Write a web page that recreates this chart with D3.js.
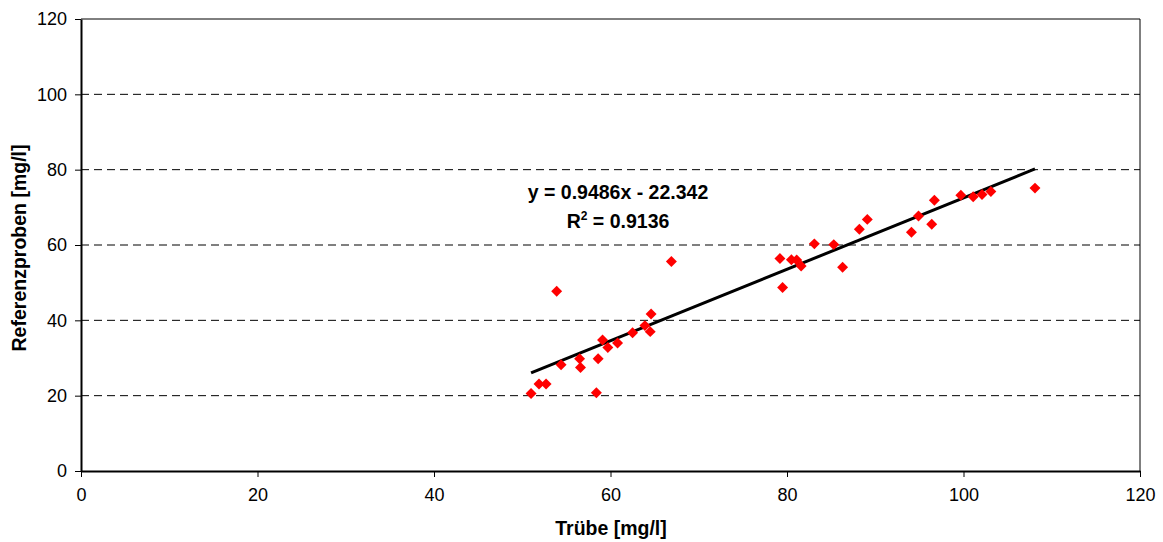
<!DOCTYPE html>
<html>
<head>
<meta charset="utf-8">
<script src="https://cdn.jsdelivr.net/npm/d3@7"></script>
<style>
  body { margin: 0; background: #fff; }
  svg text { font-family: "Liberation Sans", Arial, sans-serif; }
</style>
</head>
<body>
<svg id="chart" width="1163" height="542"></svg>
<script>
// Data
var truebe = [51.0, 51.9, 52.7, 53.9, 54.4, 56.5, 56.6, 58.4, 58.6, 59.1, 59.7, 60.8, 62.5, 63.9, 64.5, 64.6, 66.9,
  79.2, 79.5, 80.5, 81.1, 81.6, 83.1, 85.3, 86.3, 88.2, 89.1, 94.1, 94.9, 96.4, 96.7, 99.7, 101.1, 102.1, 103.1, 108.1];
var referenz = [20.6, 23.1, 23.1, 47.7, 28.2, 29.8, 27.5, 20.8, 29.8, 34.8, 32.8, 34.0, 36.7, 38.6, 37.0, 41.7, 55.6,
  56.4, 48.7, 56.1, 56.0, 54.4, 60.3, 60.1, 54.1, 64.2, 66.8, 63.4, 67.7, 65.5, 71.9, 73.2, 72.8, 73.4, 74.2, 75.1];
var xTicks = [0, 20, 40, 60, 80, 100, 120];
var yTicks = [0, 20, 40, 60, 80, 100, 120];
var slope = 0.9486, intercept = -22.342;
var eqText = "y = 0.9486x - 22.342";
var r2Text = " = 0.9136";

const MARGIN = { LEFT: 81, RIGHT: 23, TOP: 19, BOTTOM: 71 };
var width = 1163, height = 542;

let svg = d3.select("#chart");

var xScale = d3.scaleLinear().domain([0, 120]).range([MARGIN.LEFT, width - MARGIN.RIGHT]);
var yScale = d3.scaleLinear().domain([0, 120]).range([height - MARGIN.BOTTOM, MARGIN.TOP]);

// dashed gridlines
svg.append("g")
  .selectAll("line")
  .data(yTicks.filter(d => d > 0 && d < 120))
  .enter()
  .append("line")
  .attr("x1", xScale(0)).attr("x2", xScale(120))
  .attr("y1", d => yScale(d)).attr("y2", d => yScale(d))
  .attr("stroke", "#000")
  .attr("stroke-width", 1)
  .attr("stroke-dasharray", "8,5");

// frame (top + right)
svg.append("path")
  .attr("d", `M${xScale(0)},${yScale(120)}H${xScale(120)}V${yScale(0)}`)
  .attr("fill", "none")
  .attr("stroke", "#000")
  .attr("stroke-width", 1);

// axes
let xAxis = d3.axisBottom(xScale).tickValues(xTicks).tickSize(6).tickSizeOuter(0).tickPadding(11);
let yAxis = d3.axisLeft(yScale).tickValues(yTicks).tickSize(6).tickSizeOuter(0).tickPadding(8);

let gx = svg.append("g")
  .attr("transform", `translate(0,${yScale(0)})`)
  .call(xAxis);
let gy = svg.append("g")
  .attr("transform", `translate(${xScale(0)},0)`)
  .call(yAxis);

[gx, gy].forEach(g => {
  g.select(".domain").attr("stroke", "#000").attr("stroke-width", 2);
  g.selectAll(".tick line").attr("stroke", "#000");
  g.selectAll("text").style("font-size", "18px").attr("fill", "#000");
});

// trend line
var xMin = d3.min(truebe), xMax = d3.max(truebe);
var trend = [[xMin, slope * xMin + intercept], [xMax, slope * xMax + intercept]];
svg.append("path")
  .datum(trend)
  .attr("d", d3.line().x(d => xScale(d[0])).y(d => yScale(d[1])))
  .attr("stroke", "#000")
  .attr("stroke-width", 3)
  .attr("fill", "none");

// points
var pts = truebe.map((x, i) => ({ x: x, y: referenz[i] }));
svg.append("g")
  .selectAll("path")
  .data(pts)
  .enter()
  .append("path")
  .attr("d", d3.symbol().type(d3.symbolSquare).size(60))
  .attr("transform", d => `translate(${xScale(d.x)},${yScale(d.y)}) rotate(45)`)
  .attr("fill", "#ff0000");

// equation label
svg.append("text")
  .attr("x", 618).attr("y", 199)
  .attr("text-anchor", "middle")
  .style("font-size", "19.5px").style("font-weight", "bold")
  .text(eqText);
let r2 = svg.append("text")
  .attr("x", 618).attr("y", 228)
  .attr("text-anchor", "middle")
  .style("font-size", "19.5px").style("font-weight", "bold");
r2.append("tspan").text("R");
r2.append("tspan").attr("dy", -8).style("font-size", "12px").text("2");
r2.append("tspan").attr("dy", 8).text(r2Text);

// axis titles
svg.append("text")
  .attr("x", 611).attr("y", 535)
  .attr("text-anchor", "middle")
  .style("font-size", "19.5px").style("font-weight", "bold")
  .text("Trübe [mg/l]");
svg.append("text")
  .attr("transform", `translate(26,248) rotate(-90)`)
  .attr("text-anchor", "middle")
  .style("font-size", "19.5px").style("font-weight", "bold")
  .text("Referenzproben [mg/l]");
</script>
</body>
</html>
